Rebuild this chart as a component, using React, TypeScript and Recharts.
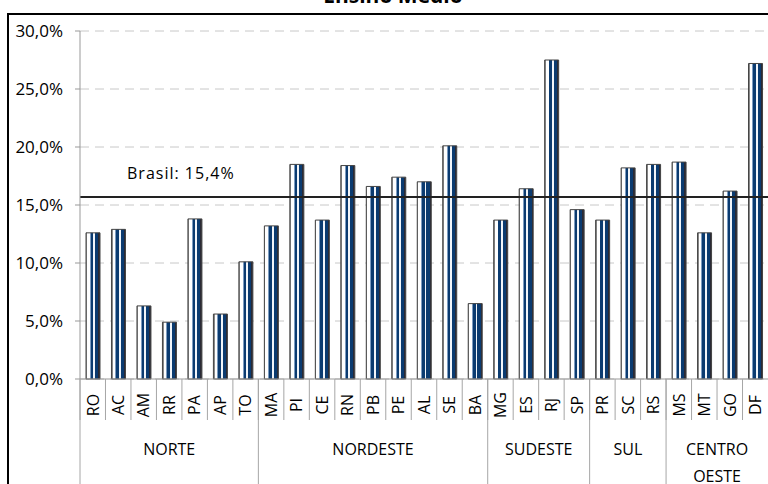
import { BarChart, Bar, XAxis, YAxis, CartesianGrid, ReferenceLine } from 'recharts';

const STATES = ['RO', 'AC', 'AM', 'RR', 'PA', 'AP', 'TO', 'MA', 'PI', 'CE', 'RN', 'PB', 'PE', 'AL', 'SE', 'BA', 'MG', 'ES', 'RJ', 'SP', 'PR', 'SC', 'RS', 'MS', 'MT', 'GO', 'DF'];
const RATES = [12.6, 12.9, 6.3, 4.9, 13.8, 5.6, 10.1, 13.2, 18.5, 13.7, 18.4, 16.6, 17.4, 17.0, 20.1, 6.5, 13.7, 16.4, 27.5, 14.6, 13.7, 18.2, 18.5, 18.7, 12.6, 16.2, 27.2];
const REGIONS = [['NORTE'], ['NORDESTE'], ['SUDESTE'], ['SUL'], ['CENTRO', 'OESTE']];
const REGION_SIZES = [7, 9, 4, 3, 4];
const Y_TICKS = [0, 5, 10, 15, 20, 25, 30];
const BRASIL_LINE = 15.7;
const BRASIL_LABEL = 'Brasil: 15,4%';
const TITLE = 'Ensino Médio';

const data = STATES.map((state, i) => ({ state, rate: RATES[i] }));

// index of first state in each region -> region index
const regionAt: Record<number, number> = {};
REGION_SIZES.reduce((start, size, r) => {
  regionAt[start] = r;
  return start + size;
}, 0);

const W = 768;
const H = 484;
const LEFT = 80;
const BAND = (W - LEFT) / STATES.length;
const FONT = '"Open Sans", "Noto Sans", sans-serif';
const SEP = '#a6a6a6';

const fmtPct = (v: number) => v.toFixed(1).replace('.', ',') + '%';

// hard-edged vertical stripes like the original bar fill
const STRIPES: [number, number, string][] = [
  [0, 0.08, '#8a8a8a'],
  [0.08, 0.28, '#ffffff'],
  [0.28, 0.34, '#7d9cc0'],
  [0.34, 0.52, '#0b3b70'],
  [0.52, 0.66, '#f2f5f9'],
  [0.66, 0.88, '#0b3b70'],
  [0.88, 1, '#2a2a35'],
];

function StateTick({ x, y, payload }: any) {
  return (
    <g>
      <line x1={x - BAND / 2} y1={y} x2={x - BAND / 2} y2={y + 41} stroke={SEP} />
      <text
        transform={`translate(${x},${y + 26}) rotate(-90)`}
        dy="0.36em"
        textAnchor="middle"
        fontSize={16}
        fontFamily={FONT}
        fill="#000"
      >
        {payload.value}
      </text>
    </g>
  );
}

function RegionTick({ x, y, index }: any) {
  const r = regionAt[index];
  if (r === undefined) return <g />;
  const x0 = x - BAND / 2;
  const cx = x0 + (REGION_SIZES[r] * BAND) / 2;
  return (
    <g>
      <line x1={x0} y1={y - 41} x2={x0} y2={y + 70} stroke={SEP} />
      {REGIONS[r].map((line, k) => (
        <text key={k} x={cx} y={y + 35 + k * 27} textAnchor="middle" fontSize={16} fontFamily={FONT} fill="#000">
          {line}
        </text>
      ))}
    </g>
  );
}

const BrasilLabel = (props: any) => (
  <text
    x={props.viewBox.x + 47}
    y={props.viewBox.y - 18}
    fontSize={16}
    letterSpacing={1}
    fontFamily={FONT}
    fill="#000"
  >
    {BRASIL_LABEL}
  </text>
);

export default function App() {
  return (
    <div style={{ position: 'absolute', left: 0, top: 0, width: W, height: H, overflow: 'hidden', background: '#fff' }}>
      <svg width={0} height={0} style={{ position: 'absolute' }}>
        <defs>
          <linearGradient id="barStripe" x1="0" y1="0" x2="1" y2="0">
            {STRIPES.flatMap(([a, b, c], i) => [
              <stop key={i + 'a'} offset={a} stopColor={c} />,
              <stop key={i + 'b'} offset={b} stopColor={c} />,
            ])}
          </linearGradient>
        </defs>
      </svg>
      <svg width={W} height={30} style={{ position: 'absolute', left: 0, top: 0 }}>
        <text x={393} y={3} textAnchor="middle" fontSize={21} fontWeight="bold" fontFamily={FONT} fill="#000">
          {TITLE}
        </text>
      </svg>
      <div
        style={{
          position: 'absolute',
          left: 7,
          top: 13,
          width: 900,
          height: 600,
          borderLeft: '2px solid #000',
          borderTop: '2px solid #000',
        }}
      />
      <div style={{ position: 'absolute', left: 0, top: 0 }}>
        <BarChart width={W} height={H} data={data} margin={{ top: 31, right: 0, left: 0, bottom: 0 }}>
          <CartesianGrid vertical={false} stroke="#c8c8c8" strokeDasharray="9 6" />
          <XAxis
            dataKey="state"
            interval={0}
            height={41}
            tickSize={0}
            tickMargin={0}
            tickLine={false}
            axisLine={{ stroke: '#999' }}
            tick={<StateTick />}
          />
          <XAxis
            xAxisId="region"
            dataKey="state"
            interval={0}
            height={64}
            tickSize={0}
            tickMargin={0}
            tickLine={false}
            axisLine={false}
            tick={<RegionTick />}
          />
          <YAxis
            width={80}
            domain={[0, 30]}
            ticks={Y_TICKS}
            interval={0}
            tickFormatter={fmtPct}
            tickSize={5}
            tickMargin={12}
            axisLine={{ stroke: '#999' }}
            tickLine={{ stroke: '#999' }}
            tick={{ fontSize: 17, fill: '#000', fontFamily: FONT }}
          />
          <Bar dataKey="rate" barSize={14} fill="url(#barStripe)" stroke="#444" strokeWidth={1} isAnimationActive={false} />
          <ReferenceLine y={BRASIL_LINE} stroke="#222" strokeWidth={2} label={BrasilLabel} />
        </BarChart>
      </div>
    </div>
  );
}
